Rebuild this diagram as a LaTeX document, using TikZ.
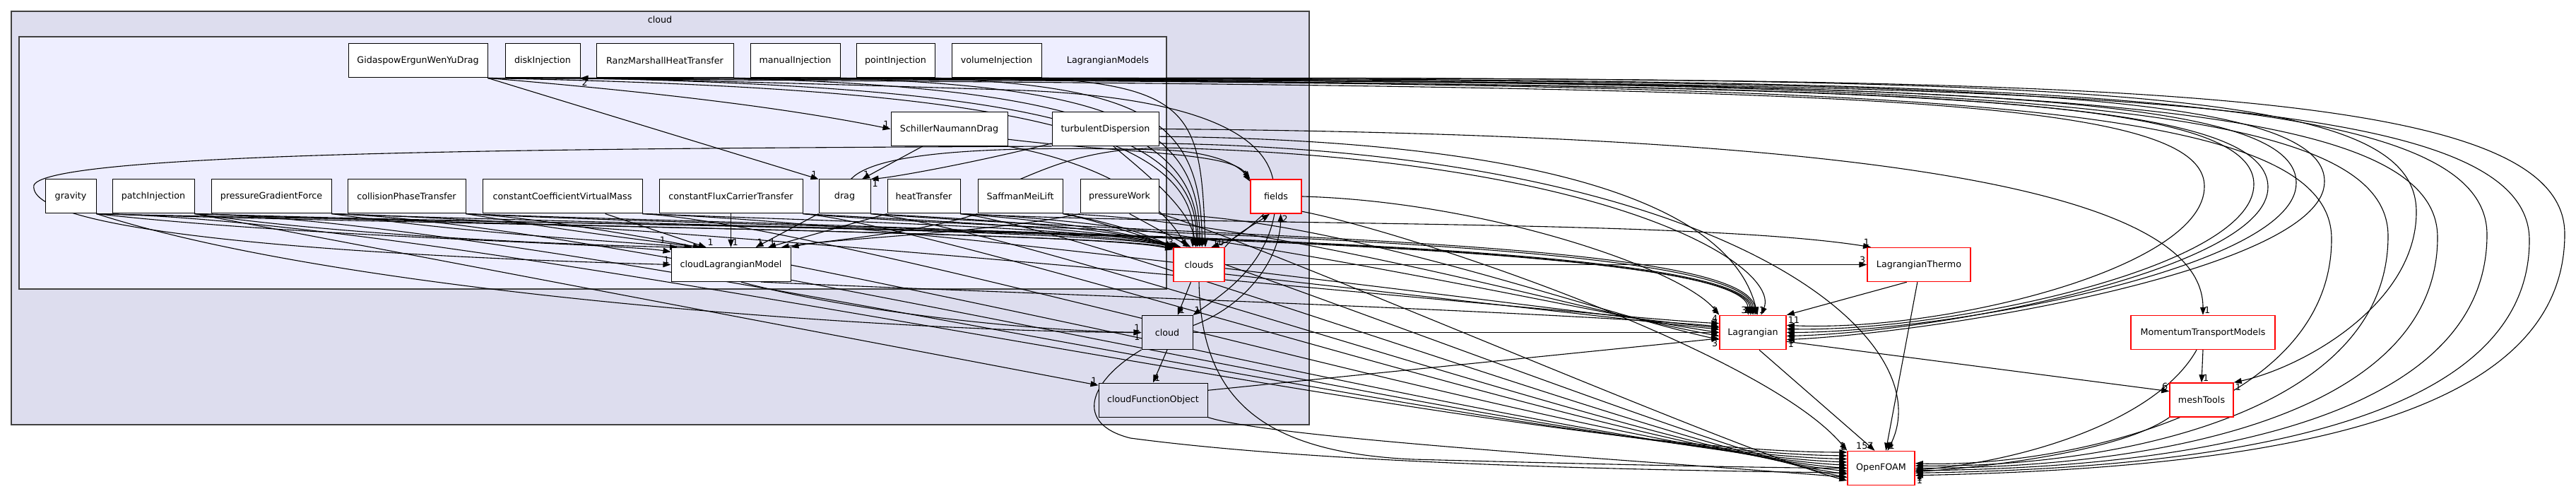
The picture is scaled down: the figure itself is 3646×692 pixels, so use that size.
\documentclass[tikz,border=0pt]{standalone}
\usepackage{fontspec}
\setmainfont{DejaVu Sans}
\usetikzlibrary{arrows.meta}
\definecolor{outerbg}{HTML}{DDDDEE}
\definecolor{innerbg}{HTML}{EEEEFF}
\definecolor{frame}{HTML}{404040}
\definecolor{extred}{HTML}{FF0000}
\pgfdeclarelayer{back}
\pgfdeclarelayer{wires}
\pgfsetlayers{back,wires,main}
\tikzset{
  dir/.style={draw=black, fill=white, line width=1pt, minimum height=48pt, inner sep=0pt,
    font=\fontsize{12.7}{15}\selectfont},
  dirred/.style={dir, draw=extred, line width=1.5pt},
  dirgray/.style={dir, fill=outerbg},
  clus/.style={draw=frame, line width=1.2pt},
  dep/.style={draw=black, line width=1.1pt, -{Triangle[length=11pt,width=8pt]}},
  hl/.style={font=\fontsize{12.7}{15}\selectfont, inner sep=1.5pt},
}

\begin{document}
\begin{tikzpicture}[x=1pt,y=-1pt]
  \useasboundingbox (0,0) rectangle (3646,692);

  % directory clusters
  \begin{pgfonlayer}{back}
    \draw[clus, fill=outerbg] (16,16) rectangle (1853,601);
    \draw[clus, fill=innerbg] (27,52) rectangle (1651,409);
  \end{pgfonlayer}
  \node[hl] (cloudlbl) at (934,28) {cloud};
  \node[hl] (modelslbl) at (1568,86) {LagrangianModels};

  % model directories
  \foreach \nm/\x/\y/\w/\txt in {
      gidaspow/591.5/86/197/GidaspowErgunWenYuDrag,
      diskInj/768/86/106/diskInjection,
      ranzMarshall/941/86/194/RanzMarshallHeatTransfer,
      manualInj/1125.5/86/127/manualInjection,
      pointInj/1267.5/86/111/pointInjection,
      volumeInj/1410.5/86/127/volumeInjection,
      schiller/1343.5/182.5/165/SchillerNaumannDrag,
      turbDisp/1564.5/182.5/151/turbulentDispersion,
      gravity/100/278/72/gravity,
      patchInj/217/278/116/patchInjection,
      pressGrad/384/278/170/pressureGradientForce,
      collPhase/575.5/278/167/collisionPhaseTransfer,
      constCVM/796/278/226/constantCoefficientVirtualMass,
      constFCT/1034.5/278/203/constantFluxCarrierTransfer,
      drag/1195.5/278/73/drag,
      heatTr/1307.5/278/103/heatTransfer,
      saffman/1444/278/120/SaffmanMeiLift,
      pressWork/1584.5/278/111/pressureWork,
      cloudLM/1034.5/374.5/169/cloudLagrangianModel}
    \node[dir, minimum width=\w] (\nm) at (\x,\y) {\txt};

  % cloud directories and outside libraries
  \node[dirred, minimum width=72] (fields) at (1806,278) {fields};
  \node[dirred, minimum width=72] (clouds) at (1697,374.5) {clouds};
  \node[dirgray, minimum width=72] (cloudNode) at (1652,470.5) {cloud};
  \node[dirgray, minimum width=154] (cloudFO) at (1632,566) {cloudFunctionObject};
  \node[dirred, minimum width=146] (lagThermo) at (2716,374.5) {LagrangianThermo};
  \node[dirred, minimum width=94] (lagrangian) at (2481,470.5) {Lagrangian};
  \node[dirred, minimum width=204] (momTrans) at (3118,470.5) {MomentumTransportModels};
  \node[dirred, minimum width=90] (meshTools) at (3116,566) {meshTools};
  \node[dirred, minimum width=95] (openFOAM) at (2662.5,662.5) {OpenFOAM};

  \begin{pgfonlayer}{wires}
  % top row -> OpenFOAM, round the far right
  \foreach \src/\yy/\xt/\a/\lab in {gidaspow/118/3300/8/1, diskInj/114/3380/4/1,
      ranzMarshall/116/3450/0/1, manualInj/112/3520/-4/2, pointInj/120/3580/-8/1,
      volumeInj/111/3630/-12/1}
    \draw[dep] (\src.south east) .. controls (\xt-700,\yy) and (\xt,\yy) .. (\xt,\yy+220)
      .. controls (\xt,590) and (\xt-400,662) .. (openFOAM.\a) node[hl,pos=1,below right] {\lab};

  % top row -> Lagrangian, from the right
  \foreach \src/\yy/\xt/\a/\lab in {gidaspow/124/3120/12/1, ranzMarshall/121/3190/6/2,
      manualInj/119/3250/0/1, pointInj/125/3210/-6/1, volumeInj/117/3290/-12/1}
    \draw[dep] (\src.south east) .. controls (\xt-600,\yy) and (\xt,\yy) .. (\xt,\yy+140)
      .. controls (\xt,380) and (2750,470) .. (lagrangian.\a) node[hl,pos=1,below right] {\lab};

  % top row -> clouds
  \foreach \src/\cx/\a in {gidaspow/1350/110, diskInj/1420/100, volumeInj/1690/70}
    \draw[dep] (\src.south east) .. controls (\cx,124) and (1700,170) .. (clouds.\a);
  \foreach \src/\cx/\a/\lab in {ranzMarshall/1480/95/3, manualInj/1560/88/5, pointInj/1620/80/3}
    \draw[dep] (\src.south east) .. controls (\cx,124) and (1700,170) .. (clouds.\a)
      node[hl,pos=1,above] {\lab};

  \draw[dep] (volumeInj.south east) .. controls (3000,108) and (3420,125) .. (3420,300)
    .. controls (3420,430) and (3260,520) .. (meshTools.north east) node[hl,pos=1,below right] {1};

  % drag models
  \draw[dep] (gidaspow.south east) -- (drag.north west) node[hl,pos=1,above left] {1};
  \draw[dep] (gidaspow.south east) .. controls (900,128) and (1100,150) .. (schiller.west)
    node[hl,pos=1,above left] {1};
  \draw[dep] (schiller.213) -- (drag.45) node[hl,pos=1,above right] {1};
  \draw[dep] (turbDisp.195) .. controls (1380,230) and (1270,250) .. (drag.north east)
    node[hl,pos=1,below right] {1};
  \draw[dep] (turbDisp.south west) .. controls (900,210) and (70,212) .. (48,262)
    .. controls (36,330) and (500,362) .. (cloudLM.west) node[hl,pos=1,above left] {1};
  \draw[dep] (turbDisp.east) .. controls (2600,190) and (3118,260) .. (momTrans.north)
    node[hl,pos=1,above right] {1};
  \draw[dep] (turbDisp.-8) .. controls (2300,200) and (2460,330) .. (lagrangian.75)
    node[hl,pos=1,above right] {1};
  \draw[dep] (turbDisp.-15) .. controls (2450,215) and (2750,480) .. (openFOAM.70)
    node[hl,pos=1,above right] {1};
  \draw[dep] (turbDisp.-65) .. controls (1640,260) and (1685,300) .. (clouds.100);
  \draw[dep] (schiller.south east) .. controls (1550,230) and (1640,280) .. (clouds.125);
  \draw[dep] (schiller.-10) .. controls (1600,218) and (1740,215) .. (fields.north west)
    node[hl,pos=1,above left] {1};
  \draw[dep] (drag.70) .. controls (1240,215) and (1400,206) .. (1640,212)
    .. controls (1720,214) and (1755,235) .. (fields.150);
  \draw[dep] (saffman.north) .. controls (1500,230) and (1560,205) .. (1680,210)
    .. controls (2300,230) and (2520,380) .. (lagrangian.65);

  % model row -> cloudLagrangianModel
  \foreach \src/\cx/\cy/\a in {gravity/420/335/168, patchInj/520/338/162,
      pressGrad/680/332/156, collPhase/800/326/150}
    \draw[dep] (\src.south east) .. controls (\cx,\cy) and (880,\cy+10) .. (cloudLM.\a);
  \node[hl] (lmlabA) at (938,340) {1};
  \draw[dep] (constCVM.-22) -- (cloudLM.145) node[hl,pos=1,above right] {1};
  \draw[dep] (constFCT.south) -- (cloudLM.north) node[hl,pos=1,above right] {1};
  \draw[dep] (drag.south west) -- (cloudLM.35) node[hl,pos=1,above right] {1};
  \draw[dep] (heatTr.south west) -- (cloudLM.25) node[hl,pos=1,above right] {1};
  \draw[dep] (saffman.south west) .. controls (1300,330) and (1160,342) .. (cloudLM.19)
    node[hl,pos=1,below right] {1};
  \draw[dep] (pressWork.south west) .. controls (1400,330) and (1170,338) .. (cloudLM.north east);

  % model row -> clouds
  \foreach \src/\cx/\cy/\a in {gravity/600/318/150, patchInj/700/320/148,
      pressGrad/800/316/146, constCVM/1150/312/142, constFCT/1300/312/140,
      drag/1380/310/138, heatTr/1450/310/136}
    \draw[dep] (\src.south east) .. controls (\cx,\cy) and (1560,\cy+10) .. (clouds.\a);
  \draw[dep] (collPhase.south east) .. controls (950,314) and (1560,324) .. (clouds.144)
    node[hl,pos=1,above left] {3};
  \draw[dep] (saffman.south east) .. controls (1560,312) and (1620,330) .. (clouds.north west);
  \draw[dep] (pressWork.-60) -- (clouds.115) node[hl,pos=1,above right] {2};

  % model row -> Lagrangian
  \foreach \src/\cx/\yy/\a/\lab in {gravity/900/322/105/3, patchInj/1000/326/98/1,
      collPhase/1200/330/92/1, constFCT/1500/334/86/1, drag/1700/338/80/2}
    \draw[dep] (\src.south east) .. controls (\cx,\yy) and (2470,\yy) .. (lagrangian.\a)
      node[hl,pos=1,above left] {\lab};
  \foreach \src/\cx/\yy/\a/\lab in {pressGrad/1000/318/165/4, constCVM/1300/316/172/3,
      heatTr/1700/314/180/5, saffman/1800/312/186/1, pressWork/1900/310/192/2}
    \draw[dep] (\src.south east) .. controls (\cx,\yy) and (2250,\yy+130) .. (lagrangian.\a)
      node[hl,pos=1,above left] {\lab};

  % model row -> OpenFOAM
  \foreach \src/\cx/\yy/\xb/\a in {patchInj/800/314/2140/160, pressGrad/900/316/2180/165,
      constCVM/1200/320/2260/175, constFCT/1350/322/2300/180, heatTr/1550/326/2380/190,
      saffman/1650/328/2420/195}
    \draw[dep] (\src.south east) .. controls (\cx,\yy) and (\xb,640) .. (openFOAM.\a);
  \foreach \src/\cx/\yy/\xb/\a/\lab in {gravity/700/312/2100/155/1, collPhase/1000/318/2220/170/1,
      drag/1450/324/2340/185/4, pressWork/1750/330/2460/200/1}
    \draw[dep] (\src.south east) .. controls (\cx,\yy) and (\xb,640) .. (openFOAM.\a)
      node[hl,pos=1,above left] {\lab};

  % single links
  \draw[dep] (gravity.south east) .. controls (500,420) and (1300,470) .. (cloudNode.west)
    node[hl,pos=1,above left] {1};
  \draw[dep] (patchInj.south east) -- (cloudFO.165) node[hl,pos=1,above left] {1};
  \draw[dep] (heatTr.south east) .. controls (1700,320) and (2400,310) .. (lagThermo.160)
    node[hl,pos=1,above left] {1};

  % clouds, fields and cloud
  \draw[dep] (fields.100) .. controls (1790,200) and (1720,140) .. (1450,128)
    .. controls (1150,118) and (900,112) .. (diskInj.south east) node[hl,pos=1,below right] {2};
  \draw[dep] (clouds.north east) .. controls (1750,330) and (1772,320) .. (fields.250)
    node[hl,pos=1,below left] {2};
  \draw[dep] (fields.235) .. controls (1760,330) and (1745,340) .. (clouds.55)
    node[hl,pos=1,above right] {10};
  \draw[dep] (fields.265) .. controls (1790,380) and (1725,420) .. (cloudNode.north east)
    node[hl,pos=1,above right] {1};
  \draw[dep] (cloudNode.15) .. controls (1770,430) and (1812,360) .. (fields.-75)
    node[hl,pos=1,below right] {2};
  \draw[dep] (clouds.245) -- (cloudNode.59) node[hl,pos=1,above right] {1};
  \draw[dep] (clouds.east) -- (lagThermo.west) node[hl,pos=1,above left] {3};
  \draw[dep] (clouds.-20) -- (lagrangian.175) node[hl,pos=1,above left] {3};
  \draw[dep] (clouds.south) .. controls (1700,560) and (1780,640) .. (2000,650)
    .. controls (2300,658) and (2500,662) .. (openFOAM.west);
  \draw[dep] (fields.east) .. controls (2100,285) and (2380,380) .. (lagrangian.north west)
    node[hl,pos=1,above left] {1};
  \draw[dep] (fields.-30) .. controls (2000,330) and (2500,500) .. (openFOAM.north west)
    node[hl,pos=1,above left] {1};

  \draw[dep] (cloudLM.-60) .. controls (1200,440) and (1450,468) .. (cloudNode.west)
    node[hl,pos=1,below left] {1};
  \draw[dep] (cloudLM.-30) .. controls (1300,410) and (2200,440) .. (lagrangian.170)
    node[hl,pos=1,above left] {4};
  \draw[dep] (cloudNode.south) -- (cloudFO.north) node[hl,pos=1,above right] {1};
  \draw[dep] (cloudNode.east) -- (lagrangian.west) node[hl,pos=1,above left] {5};
  \draw[dep] (cloudNode.south west) .. controls (1540,540) and (1520,600) .. (1600,620)
    .. controls (1900,660) and (2400,666) .. (openFOAM.188);
  \draw[dep] (cloudFO.10) -- (lagrangian.190) node[hl,pos=1,below left] {3};
  \draw[dep] (cloudFO.south east) .. controls (1800,620) and (2300,650) .. (openFOAM.195);

  % outside libraries
  \draw[dep] (lagThermo.235) -- (lagrangian.north east) node[hl,pos=1,below right] {11};
  \draw[dep] (lagThermo.265) -- (openFOAM.75) node[hl,pos=1,above right] {7};
  \draw[dep] (lagrangian.-70) -- (openFOAM.110) node[hl,pos=1,above left] {157};
  \draw[dep] (lagrangian.-15) -- (meshTools.165) node[hl,pos=1,above left] {6};
  \draw[dep] (momTrans.south) -- (meshTools.north) node[hl,pos=1,above right] {1};
  \draw[dep] (momTrans.250) .. controls (3050,600) and (2850,655) .. (openFOAM.-3)
    node[hl,pos=1,below right] {1};
  \draw[dep] (meshTools.south west) .. controls (3000,640) and (2800,662) .. (openFOAM.-6)
    node[hl,pos=1,below right] {1};
  \end{pgfonlayer}
\end{tikzpicture}
\end{document}
